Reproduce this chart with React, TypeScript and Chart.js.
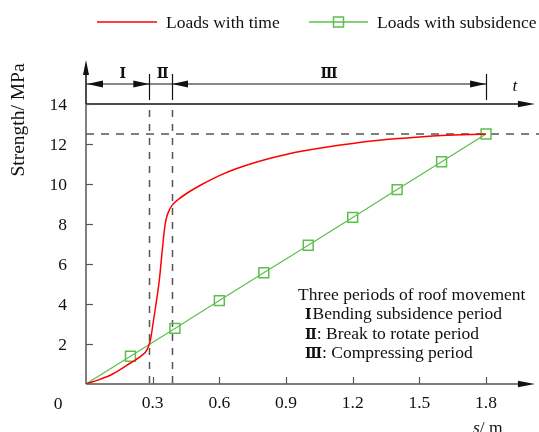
import React, { useEffect, useRef } from 'react';
import { Chart, registerables } from 'chart.js';
Chart.register(...registerables);

// ---- data ----
const timeS = [0, 0.06, 0.12, 0.2, 0.25, 0.275, 0.29, 0.3, 0.315, 0.33, 0.345, 0.355, 0.363, 0.375, 0.39, 0.42, 0.47, 0.525, 0.6, 0.675, 0.75, 0.825, 0.9, 0.975, 1.1, 1.2, 1.35, 1.5, 1.6, 1.8];
const timeLoad = [0, 0.22, 0.5, 1.05, 1.42, 1.72, 2.2, 2.9, 4.0, 5.2, 6.9, 7.9, 8.35, 8.7, 8.97, 9.27, 9.65, 10.0, 10.42, 10.76, 11.04, 11.28, 11.48, 11.65, 11.88, 12.03, 12.22, 12.35, 12.42, 12.5];
const subsS = [0, 0.2, 0.4, 0.6, 0.8, 1.0, 1.2, 1.4, 1.6, 1.8];
const subsLoad = [0, 1.39, 2.78, 4.17, 5.56, 6.94, 8.33, 9.72, 11.11, 12.5];
const xTicks = [0.3, 0.6, 0.9, 1.2, 1.5, 1.8];
const xTickLabels = ['0.3', '0.6', '0.9', '1.2', '1.5', '1.8'];
const yTicks = [2, 4, 6, 8, 10, 12, 14];
const periodBounds = [0, 0.285, 0.387, 1.8];
const periodLabels = ['Ⅰ', 'Ⅱ', 'Ⅲ'];
const refLevel = 12.5;
const tLevel = 14;
const dimLevel = 15;
const noteTitle = 'Three periods of roof movement';
const noteNumerals = ['Ⅰ', 'Ⅱ', 'Ⅲ'];
const noteTexts = ['Bending subsidence period', ': Break to rotate period', ': Compressing period'];
const seriesNames = ['Loads with time', 'Loads with subsidence'];

const RED = '#ff0000';
const GREEN = '#5cbf4c';
const AXIS = '#555555';
const SERIF = '"Liberation Serif", serif';
const NUMF = '"DejaVu Serif", serif';

function arrowHead(ctx: CanvasRenderingContext2D, tx: number, ty: number, dir: string, len: number, half: number) {
  ctx.beginPath();
  ctx.moveTo(tx, ty);
  if (dir === 'right') { ctx.lineTo(tx - len, ty - half); ctx.lineTo(tx - len, ty + half); }
  else if (dir === 'left') { ctx.lineTo(tx + len, ty - half); ctx.lineTo(tx + len, ty + half); }
  else { ctx.lineTo(tx - half, ty + len); ctx.lineTo(tx + half, ty + len); }
  ctx.closePath();
  ctx.fill();
}
function seg(ctx: CanvasRenderingContext2D, x1: number, y1: number, x2: number, y2: number) {
  ctx.beginPath(); ctx.moveTo(x1, y1); ctx.lineTo(x2, y2); ctx.stroke();
}

const deco = {
  id: 'deco',
  beforeDatasetsDraw(chart: any) {
    const { ctx, scales: { x, y } } = chart;
    ctx.save();
    ctx.strokeStyle = '#555';
    ctx.lineWidth = 1.5;
    ctx.setLineDash([8, 7]);
    const yr = y.getPixelForValue(refLevel);
    seg(ctx, x.getPixelForValue(0), yr, 539, yr);
    ctx.setLineDash([7, 7]);
    for (const b of [periodBounds[1], periodBounds[2]]) {
      const px = Math.round(x.getPixelForValue(b)) + 0.5;
      seg(ctx, px, y.getPixelForValue(tLevel) + 6, px, y.getPixelForValue(0));
    }
    ctx.restore();
  },
  afterDatasetsDraw(chart: any) {
    const { ctx, scales: { x, y } } = chart;
    ctx.save();
    const x0 = x.getPixelForValue(0);
    const y0 = y.getPixelForValue(0);
    const xEnd = x.getPixelForValue(2.02);
    const yTop = y.getPixelForValue(16.2);
    const yT = y.getPixelForValue(tLevel);
    // axes
    ctx.strokeStyle = AXIS; ctx.fillStyle = '#111'; ctx.lineWidth = 1.5;
    seg(ctx, x0, y0, xEnd - 10, y0);
    seg(ctx, x0, y0, x0, yT);
    arrowHead(ctx, xEnd, y0, 'right', 17, 3.2);
    ctx.strokeStyle = '#111';
    seg(ctx, x0, yT, x0, yTop + 8);
    arrowHead(ctx, x0, yTop, 'up', 15, 3);
    // t axis
    seg(ctx, x0, yT, xEnd - 10, yT);
    arrowHead(ctx, xEnd, yT, 'right', 17, 3.2);
    // ticks
    ctx.strokeStyle = AXIS; ctx.lineWidth = 1.2;
    for (const v of xTicks) {
      const px = Math.round(x.getPixelForValue(v)) + 0.5;
      seg(ctx, px, y0, px, y0 - 7);
    }
    for (const v of yTicks) {
      const py = Math.round(y.getPixelForValue(v)) + 0.5;
      seg(ctx, x0, py, x0 + 7, py);
    }
    // tick labels
    ctx.fillStyle = '#111';
    ctx.font = `17.5px ${SERIF}`;
    ctx.textBaseline = 'alphabetic';
    ctx.textAlign = 'center';
    xTicks.forEach((v, i) => ctx.fillText(xTickLabels[i], x.getPixelForValue(v), y0 + 24));
    ctx.fillText('0', x0 - 28, y0 + 25);
    ctx.textAlign = 'right';
    yTicks.forEach((v) => ctx.fillText(String(v), x0 - 19, y.getPixelForValue(v) + 6));
    // axis titles
    ctx.save();
    ctx.translate(24, 120);
    ctx.rotate(-Math.PI / 2);
    ctx.textAlign = 'center';
    ctx.font = `19.5px ${SERIF}`;
    ctx.fillText('Strength/ MPa', 0, 0);
    ctx.restore();
    ctx.textAlign = 'left';
    ctx.font = `italic 17.5px ${SERIF}`;
    ctx.fillText('s', 473, 433);
    const sw = ctx.measureText('s').width;
    ctx.font = `17.5px ${SERIF}`;
    ctx.fillText('/ m', 473 + sw, 433);
    // dimension line
    ctx.strokeStyle = '#111'; ctx.fillStyle = '#111'; ctx.lineWidth = 1.2;
    const yd = y.getPixelForValue(dimLevel);
    const bx = periodBounds.map((b) => x.getPixelForValue(b));
    seg(ctx, bx[0], yd, bx[3], yd);
    for (let i = 1; i < 4; i++) {
      const px = Math.round(bx[i]) + 0.5;
      seg(ctx, px, yd - 10, px, yd + 16);
    }
    arrowHead(ctx, bx[0] + 1, yd, 'left', 16, 3.5);
    arrowHead(ctx, bx[1], yd, 'right', 16, 3.5);
    arrowHead(ctx, bx[2], yd, 'left', 16, 3.5);
    arrowHead(ctx, bx[3], yd, 'right', 16, 3.5);
    ctx.font = `bold 14px ${NUMF}`;
    ctx.textAlign = 'center';
    periodLabels.forEach((l, i) => ctx.fillText(l, (bx[i] + bx[i + 1]) / 2 + (i === 0 ? 5 : i === 1 ? 2 : 0), yd - 6));
    ctx.font = `italic 17.5px ${SERIF}`;
    ctx.fillText('t', 515, yd + 7);
    // notes
    ctx.textAlign = 'left';
    ctx.font = `17.5px ${SERIF}`;
    ctx.fillText(noteTitle, 298, 300);
    const noteY = [319, 338.5, 358];
    noteNumerals.forEach((n, i) => {
      ctx.font = `bold 14px ${NUMF}`;
      ctx.fillText(n, 305, noteY[i]);
      const w = ctx.measureText(n).width;
      ctx.font = `17.5px ${SERIF}`;
      ctx.fillText(noteTexts[i], 305 + w + (i === 0 ? 1 : 0), noteY[i]);
    });
    // legend
    const ly = 22;
    ctx.lineWidth = 1.5;
    ctx.strokeStyle = RED;
    seg(ctx, 97, ly, 157, ly);
    ctx.strokeStyle = GREEN;
    seg(ctx, 309, ly, 368, ly);
    ctx.strokeRect(333.5, ly - 5, 10, 10);
    ctx.fillStyle = '#111';
    ctx.textBaseline = 'middle';
    ctx.font = `17.5px ${SERIF}`;
    ctx.fillText(seriesNames[0], 166, ly + 1);
    ctx.fillText(seriesNames[1], 377, ly + 1);
    ctx.restore();
  },
};

export default function App() {
  const ref = useRef<HTMLCanvasElement | null>(null);
  useEffect(() => {
    if (!ref.current) return;
    const chart = new Chart(ref.current, {
      type: 'line',
      data: {
        datasets: [
          {
            label: seriesNames[0],
            data: timeS.map((s, i) => ({ x: s, y: timeLoad[i] })),
            borderColor: RED,
            borderWidth: 1.5,
            pointRadius: 0,
            cubicInterpolationMode: 'monotone',
            fill: false,
          },
          {
            label: seriesNames[1],
            data: subsS.map((s, i) => ({ x: s, y: subsLoad[i] })),
            borderColor: GREEN,
            borderWidth: 1.2,
            pointStyle: 'rect',
            pointRadius: subsS.map((s) => (s === 0 ? 0 : 7)),
            pointBorderColor: GREEN,
            pointBorderWidth: 1.5,
            pointBackgroundColor: 'rgba(0,0,0,0)',
            tension: 0,
            fill: false,
          },
        ],
      },
      options: {
        animation: false,
        responsive: false,
        devicePixelRatio: 1,
        layout: { padding: { left: 86, right: 7, top: 64, bottom: 48 } },
        plugins: { legend: { display: false }, tooltip: { enabled: false } },
        scales: {
          x: { type: 'linear', display: false, min: 0, max: 2 },
          y: { type: 'linear', display: false, min: 0, max: 16 },
        },
      },
      plugins: [deco],
    } as any);
    return () => chart.destroy();
  }, []);
  return (
    <div style={{ position: 'fixed', left: 0, top: 0, width: 539, height: 432, background: '#fff' }}>
      <canvas ref={ref} width={539} height={432} style={{ width: 539, height: 432 }} />
    </div>
  );
}
